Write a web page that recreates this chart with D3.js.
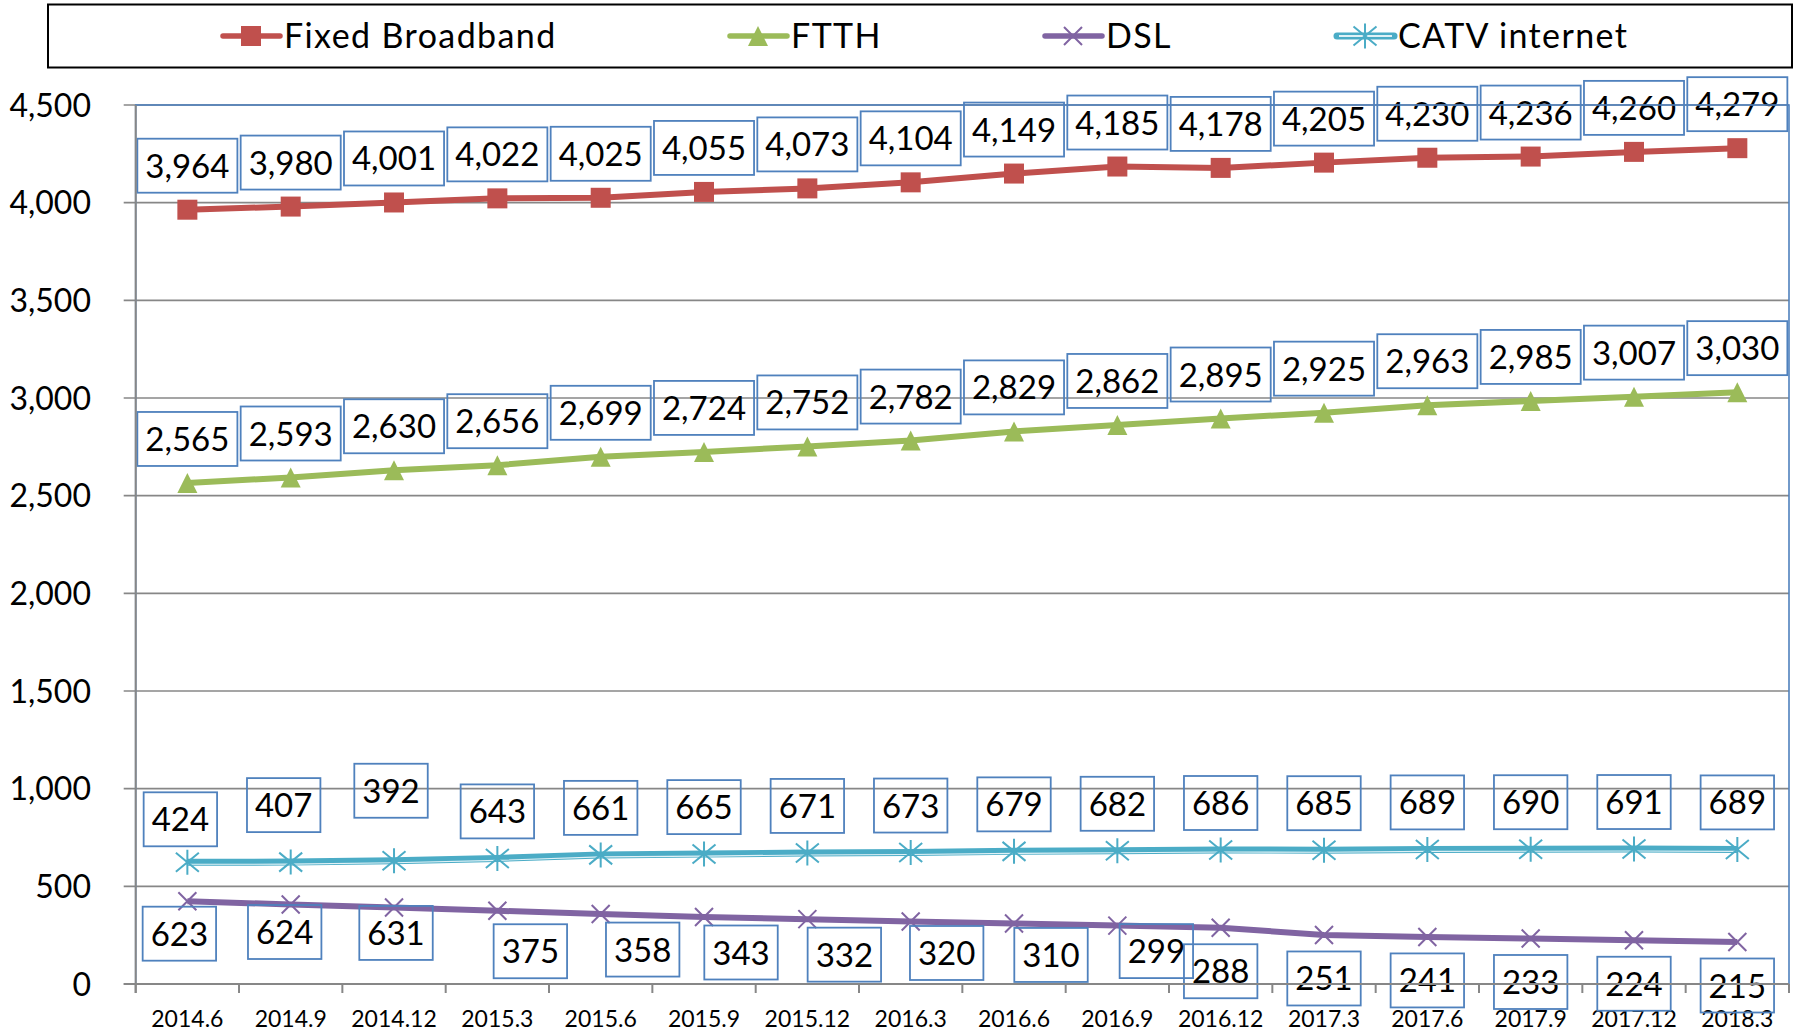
<!DOCTYPE html>
<html>
<head>
<meta charset="utf-8">
<script src="https://cdnjs.cloudflare.com/ajax/libs/d3/7.8.5/d3.min.js"></script>
<style>
    html, body { margin: 0; padding: 0; background: #fff; }
    svg { display: block; font-family: Lato, "Open Sans", sans-serif; }
</style>
</head>
<body>
<div id="graph"></div>
<script>
// quarters on the x axis
var categories = ["2014.6", "2014.9", "2014.12", "2015.3", "2015.6", "2015.9", "2015.12", "2016.3",
    "2016.6", "2016.9", "2016.12", "2017.3", "2017.6", "2017.9", "2017.12", "2018.3"];

var yTicks = [0, 500, 1000, 1500, 2000, 2500, 3000, 3500, 4000, 4500];

var fixedBroadband = [3964, 3980, 4001, 4022, 4025, 4055, 4073, 4104, 4149, 4185, 4178, 4205, 4230, 4236, 4260, 4279];
var ftth = [2565, 2593, 2630, 2656, 2699, 2724, 2752, 2782, 2829, 2862, 2895, 2925, 2963, 2985, 3007, 3030];
var dsl = [424, 407, 392, 375, 358, 343, 332, 320, 310, 299, 288, 251, 241, 233, 224, 215];
var catv = [623, 624, 631, 643, 661, 665, 671, 673, 679, 682, 686, 685, 689, 690, 691, 689];

// label texts as printed in the chart (first three of DSL / CATV are swapped there)
var dslLabelText = [623, 624, 631, 375, 358, 343, 332, 320, 310, 299, 288, 251, 241, 233, 224, 215];
var catvLabelText = [424, 407, 392, 643, 661, 665, 671, 673, 679, 682, 686, 685, 689, 690, 691, 689];

// hand moved labels [dx, dy]
var dslNudge = [[-8, -11], [-6, -16], [2, -18], [33, -3], [42, -8], [37, -8], [37, -8], [36, -12], [37, -12], [39, -18]];
var catvNudge = [[-7, 4], [-7, -10], [-3, -23]];

(function () {
    "use strict";

    var width = 1800, height = 1031;
    var plotLeft = 135.7, plotRight = 1789, plotTop = 105, plotBottom = 984;

    var fmt = d3.format(",");

    var svg = d3.select("#graph")
        .append("svg")
        .attr("width", width)
        .attr("height", height);

    svg.append("rect")
        .attr("width", width)
        .attr("height", height)
        .attr("fill", "#fff");

    var x = d3.scaleBand()
        .domain(categories)
        .range([plotLeft, plotRight]);

    var y = d3.scaleLinear()
        .domain([0, 4500])
        .range([plotBottom, plotTop]);

    function cx(d, i) { return x(categories[i]) + x.bandwidth() / 2; }

    // gridlines
    svg.append("g")
        .selectAll("line")
        .data(yTicks)
        .join("line")
        .attr("x1", plotLeft - 12)
        .attr("x2", plotRight)
        .attr("y1", function (d) { return y(d); })
        .attr("y2", function (d) { return y(d); })
        .attr("stroke", "#878787")
        .attr("stroke-width", 1.6);

    // y tick labels
    svg.append("g")
        .selectAll("text")
        .data(yTicks)
        .join("text")
        .attr("x", 91)
        .attr("y", function (d) { return y(d) + 11.7; })
        .attr("text-anchor", "end")
        .attr("font-size", 32)
        .attr("fill", "#000")
        .text(function (d) { return fmt(d); });

    // x tick labels
    svg.append("g")
        .selectAll("text")
        .data(categories)
        .join("text")
        .attr("x", function (d) { return x(d) + x.bandwidth() / 2; })
        .attr("y", 1026.5)
        .attr("text-anchor", "middle")
        .attr("font-size", 23)
        .attr("fill", "#000")
        .text(function (d) { return d; });

    var markerPaths = {
        square: "M-10,-10H10V10H-10Z",
        triangle: "M0,-10L10,10L-10,10Z",
        cross: "M-9,-9L9,9M-9,9L9,-9",
        star: "M-11.5,-9.5L11.5,9.5M-11.5,9.5L11.5,-9.5M0,-12.5V12.5"
    };

    var series = [
        { name: "Fixed Broadband", values: fixedBroadband, labels: fixedBroadband, color: "#C0504D", marker: "square", filled: true, pos: "above", gap: 17, nudge: [] },
        { name: "FTTH", values: ftth, labels: ftth, color: "#9BBB59", marker: "triangle", filled: true, pos: "above", gap: 17, nudge: [] },
        { name: "DSL", values: dsl, labels: dslLabelText, color: "#8064A2", marker: "cross", filled: false, pos: "below", gap: 16.5, nudge: dslNudge },
        { name: "CATV internet", values: catv, labels: catvLabelText, color: "#4BACC6", marker: "star", filled: false, pos: "above", gap: 20, nudge: catvNudge, doubled: true }
    ];

    var line = d3.line()
        .x(cx)
        .y(function (d) { return y(d); });

    series.forEach(function (s) {
        var g = svg.append("g");
        g.append("path")
            .attr("d", line(s.values))
            .attr("fill", "none")
            .attr("stroke", s.color)
            .attr("stroke-width", s.doubled ? 7 : 6)
            .attr("stroke-linejoin", "round");
        if (s.doubled) {
            g.append("path")
                .attr("d", line(s.values))
                .attr("transform", "translate(0,2)")
                .attr("fill", "none")
                .attr("stroke", "#dff1f6")
                .attr("stroke-width", 1.1);
        }
        g.selectAll(".mk")
            .data(s.values)
            .join("path")
            .attr("class", "mk")
            .attr("transform", function (d, i) { return "translate(" + cx(d, i) + "," + y(d) + ")"; })
            .attr("d", markerPaths[s.marker])
            .attr("fill", s.filled ? s.color : "none")
            .attr("stroke", s.color)
            .attr("stroke-width", s.filled ? 0 : 2);
    });

    // data labels
    var boxH = 54;
    series.forEach(function (s) {
        var g = svg.append("g");
        s.values.forEach(function (v, i) {
            var n = s.nudge[i] || [0, 0];
            var boxTop = s.pos === "above" ? y(v) - s.gap - boxH : y(v) + s.gap;
            var mid = cx(v, i) + n[0];
            var t = g.append("text")
                .attr("x", mid)
                .attr("y", boxTop + n[1] + boxH / 2 + 12)
                .attr("text-anchor", "middle")
                .attr("font-size", 33)
                .attr("fill", "#000")
                .text(fmt(s.labels[i]));
            var w = t.node().getComputedTextLength() + 16;
            g.insert("rect", "text")
                .attr("x", mid - w / 2)
                .attr("y", boxTop + n[1])
                .attr("width", w)
                .attr("height", boxH)
                .attr("fill", "none")
                .attr("stroke", "#4F81BD")
                .attr("stroke-width", 1.8);
        });
    });

    // plot area border (top and right show in blue)
    svg.append("rect")
        .attr("x", plotLeft)
        .attr("y", plotTop)
        .attr("width", plotRight - plotLeft)
        .attr("height", plotBottom - plotTop)
        .attr("fill", "none")
        .attr("stroke", "#4F81BD")
        .attr("stroke-width", 1.6);

    // axes
    svg.append("line")
        .attr("x1", plotLeft).attr("x2", plotLeft)
        .attr("y1", plotTop).attr("y2", plotBottom + 9)
        .attr("stroke", "#878787")
        .attr("stroke-width", 2);

    svg.append("line")
        .attr("x1", plotLeft - 12).attr("x2", plotRight)
        .attr("y1", plotBottom).attr("y2", plotBottom)
        .attr("stroke", "#878787")
        .attr("stroke-width", 2);

    svg.append("g")
        .selectAll("line")
        .data(categories.concat([null]))
        .join("line")
        .attr("x1", function (d, i) { return plotLeft + i * x.bandwidth(); })
        .attr("x2", function (d, i) { return plotLeft + i * x.bandwidth(); })
        .attr("y1", plotBottom)
        .attr("y2", plotBottom + 9)
        .attr("stroke", "#878787")
        .attr("stroke-width", 2);

    // legend
    var legend = svg.append("g");
    legend.append("rect")
        .attr("x", 48)
        .attr("y", 4.5)
        .attr("width", 1744)
        .attr("height", 63)
        .attr("fill", "#fff")
        .attr("stroke", "#000")
        .attr("stroke-width", 2);

    var legendX = [223, 730, 1045, 1337];
    series.forEach(function (s, i) {
        var lx = legendX[i], ly = 36;
        legend.append("line")
            .attr("x1", lx).attr("x2", lx + 57)
            .attr("y1", ly).attr("y2", ly)
            .attr("stroke", s.color)
            .attr("stroke-width", s.doubled ? 7 : 5.5)
            .attr("stroke-linecap", "round");
        if (s.doubled) {
            legend.append("line")
                .attr("x1", lx + 2).attr("x2", lx + 55)
                .attr("y1", ly).attr("y2", ly)
                .attr("stroke", "#dff1f6")
                .attr("stroke-width", 2);
        }
        legend.append("path")
            .attr("transform", "translate(" + (lx + 28) + "," + ly + ")")
            .attr("d", markerPaths[s.marker])
            .attr("fill", s.filled ? s.color : "none")
            .attr("stroke", s.color)
            .attr("stroke-width", s.filled ? 0 : 2);
        legend.append("text")
            .attr("x", lx + 61)
            .attr("y", 47.5)
            .attr("font-size", 34)
            .attr("letter-spacing", 1.4)
            .attr("fill", "#000")
            .text(s.name);
    });
})();
</script>
</body>
</html>
